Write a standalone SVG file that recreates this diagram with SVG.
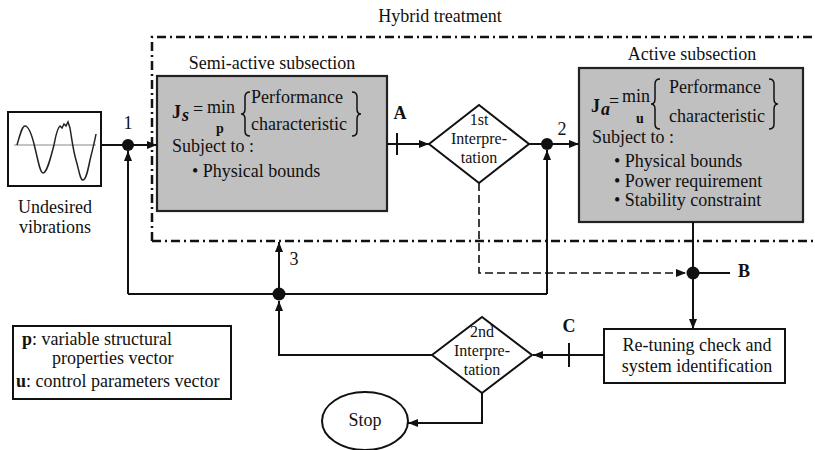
<svg xmlns="http://www.w3.org/2000/svg" width="815" height="450" viewBox="0 0 815 450">
<style>
text{font-family:"Liberation Serif","Times New Roman",serif;font-size:18px;fill:#111}
.c{text-anchor:middle}
.b{font-weight:bold}
.d{font-size:16px}
.box{fill:#fff;stroke:#111;stroke-width:2}
.gray{fill:#c0c0c0;stroke:#222;stroke-width:2.2}
.ln{fill:none;stroke:#111;stroke-width:2}
.brace{fill:none;stroke:#111;stroke-width:1.5}
.dot{fill:#111}
.sub{font-size:14px;font-weight:bold}
</style>
<defs>
<marker id="ah" viewBox="0 0 10 8" refX="10" refY="4" markerWidth="10" markerHeight="8" markerUnits="userSpaceOnUse" orient="auto">
<path d="M0,0 L10,4 L0,8 Z" fill="#111"/>
</marker>
</defs>
<rect width="815" height="450" fill="#fff"/>

<g id="hybrid">
<path d="M152,241 L152,37 L830,37 M152,241 L830,241" fill="none" stroke="#111" stroke-width="2.5" stroke-dasharray="9 4 2 4"/>
<text x="440" y="22" class="c">Hybrid treatment</text>
</g>

<g id="undesired">
<rect x="8" y="112" width="93" height="74" class="box"/>
<line x1="14" y1="145" x2="96" y2="145" stroke="#888" stroke-width="1"/>
<path d="M17,145 C20,135 22,126 25,126 C29,126 32,135 35,148 C38,160 40,173 43,173 C47,173 50,160 54,145 C56,135 57,128 60,126 L62,128 L64,124 L66,126 L68,122 L70,128 C72,140 73,150 76,160 C79,170 80,180 83,180 C86,180 88,170 90,160 C93,148 95,140 96,134" fill="none" stroke="#222" stroke-width="1.5"/>
<text x="55" y="213" class="c">Undesired</text>
<text x="55" y="233" class="c">vibrations</text>
</g>

<g id="semi">
<text x="272" y="69" class="c">Semi-active subsection</text>
<rect x="157" y="76" width="230" height="135" class="gray"/>
<text x="172" y="118" class="b">J</text>
<text x="182" y="121" font-size="12" font-style="italic" font-weight="bold">s</text>
<text x="193" y="115">=</text>
<text x="207" y="113">min</text>
<text x="216" y="133" class="sub">p</text>
<path class="brace" d="M250,92 Q245,92 245,97 L245,109 Q245,114 241,114 Q245,114 245,119 L245,131 Q245,136 250,136"/>
<text x="251" y="103">Performance</text>
<text x="251" y="130">characteristic</text>
<path class="brace" d="M352,92 Q357,92 357,97 L357,109 Q357,114 361,114 Q357,114 357,119 L357,131 Q357,136 352,136"/>
<text x="172" y="152">Subject to :</text>
<text x="192" y="177">• Physical bounds</text>
</g>

<g id="active">
<text x="692" y="60" class="c">Active subsection</text>
<rect x="579" y="68" width="224" height="154" class="gray"/>
<text x="591" y="112" class="b">J</text>
<text x="601" y="115" font-size="12" font-style="italic" font-weight="bold">a</text>
<text x="609" y="107">=</text>
<text x="622" y="102">min</text>
<text x="636" y="123" class="sub">u</text>
<path class="brace" d="M660,79 Q655,79 655,84 L655,99 Q655,104 651,104 Q655,104 655,109 L655,124 Q655,129 660,129"/>
<text x="669" y="93">Performance</text>
<text x="669" y="122">characteristic</text>
<path class="brace" d="M769,79 Q774,79 774,84 L774,99 Q774,104 778,104 Q774,104 774,109 L774,124 Q774,129 769,129"/>
<text x="592" y="143">Subject to :</text>
<text x="614" y="167">• Physical bounds</text>
<text x="614" y="187">• Power requirement</text>
<text x="614" y="206">• Stability constraint</text>
</g>

<g id="interp1">
<polygon points="429,144 479,105 529,144 479,183" class="box"/>
<text x="479" y="125" class="c d">1st</text>
<text x="479" y="144" class="c d">Interpre-</text>
<text x="479" y="163" class="c d">tation</text>
</g>

<g id="retuning">
<rect x="604" y="329" width="181" height="54" class="box"/>
<text x="697" y="351" class="c">Re-tuning check and</text>
<text x="697" y="372" class="c">system identification</text>
</g>

<g id="interp2">
<polygon points="432,355 482,317 532,355 482,393" class="box"/>
<text x="482" y="337" class="c d">2nd</text>
<text x="482" y="356" class="c d">Interpre-</text>
<text x="482" y="375" class="c d">tation</text>
</g>

<g id="stop">
<ellipse cx="365" cy="421" rx="43" ry="29" class="box"/>
<text x="365" y="426" class="c">Stop</text>
</g>

<g id="legend">
<rect x="13" y="326" width="218" height="73" class="box"/>
<text x="22" y="345"><tspan class="b">p</tspan>: variable structural</text>
<text x="52" y="364">properties vector</text>
<text x="16" y="387"><tspan class="b">u</tspan>: control parameters vector</text>
</g>

<g id="connectors">
<line x1="101" y1="145" x2="157" y2="145" class="ln" marker-end="url(#ah)"/>
<line x1="128" y1="294" x2="128" y2="151" class="ln" marker-end="url(#ah)"/>
<line x1="128" y1="294" x2="547" y2="294" class="ln"/>
<line x1="547" y1="294" x2="547" y2="150" class="ln" marker-end="url(#ah)"/>
<line x1="279" y1="294" x2="279" y2="242" class="ln" marker-end="url(#ah)"/>
<polyline points="432,355 279,355 279,301" class="ln" marker-end="url(#ah)"/>
<line x1="387" y1="144" x2="429" y2="144" class="ln" marker-end="url(#ah)"/>
<line x1="397" y1="133" x2="397" y2="155" class="ln"/>
<line x1="529" y1="144" x2="579" y2="144" class="ln" marker-end="url(#ah)"/>
<line x1="693" y1="222" x2="693" y2="329" class="ln" marker-end="url(#ah)"/>
<line x1="693" y1="273" x2="730" y2="273" class="ln"/>
<polyline points="479,183 479,273 686,273" fill="none" stroke="#111" stroke-width="1.6" stroke-dasharray="8 4" marker-end="url(#ah)"/>
<line x1="604" y1="355" x2="533" y2="355" class="ln" marker-end="url(#ah)"/>
<line x1="569" y1="343" x2="569" y2="367" class="ln"/>
<polyline points="482,393 482,423 408,423" class="ln" marker-end="url(#ah)"/>
<circle cx="128" cy="145" r="6" class="dot"/>
<circle cx="547" cy="144" r="6" class="dot"/>
<circle cx="279" cy="294" r="6.5" class="dot"/>
<circle cx="693" cy="273" r="6.5" class="dot"/>
<text x="128" y="129" class="c">1</text>
<text x="562" y="135" class="c">2</text>
<text x="294" y="265" class="c">3</text>
<text x="400" y="119" class="c b">A</text>
<text x="744" y="277" class="c b">B</text>
<text x="569" y="332" class="c b">C</text>
</g>
</svg>
